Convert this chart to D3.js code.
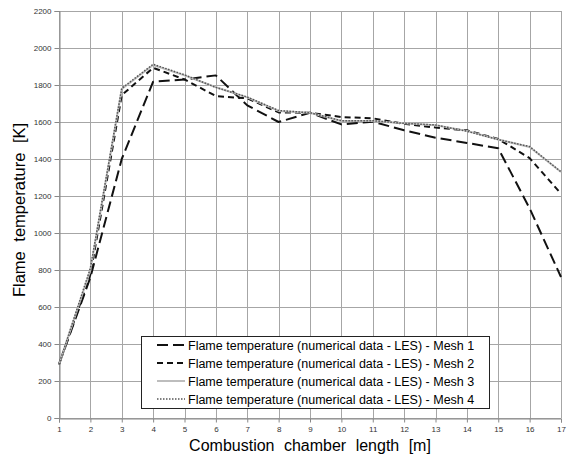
<!DOCTYPE html>
<html><head><meta charset="utf-8">
<script src="https://cdn.jsdelivr.net/npm/d3@7"></script>
<style>body{margin:0;background:#fff}svg{display:block}</style>
</head><body>
<svg id="c" width="569" height="458"></svg>
<script>
const xValues = [1,2,3,4,5,6,7,8,9,10,11,12,13,14,15,16,17];
const mesh1 = [290,760,1400,1818,1830,1852,1690,1600,1650,1587,1602,1555,1515,1487,1458,1133,762];
const mesh2 = [290,775,1745,1893,1830,1740,1728,1652,1650,1627,1620,1590,1570,1555,1508,1405,1213];
const mesh3 = [290,800,1778,1908,1852,1788,1733,1660,1650,1605,1605,1593,1582,1552,1505,1465,1330];
const mesh4 = [290,810,1782,1912,1855,1787,1735,1662,1650,1607,1607,1593,1584,1550,1505,1467,1331];
const yTicks = [0,200,400,600,800,1000,1200,1400,1600,1800,2000,2200];
const seriesNames = [
  "Flame temperature (numerical data - LES) - Mesh 1",
  "Flame temperature (numerical data - LES) - Mesh 2",
  "Flame temperature (numerical data - LES) - Mesh 3",
  "Flame temperature (numerical data - LES) - Mesh 4"
];
const xTitle = "Combustion chamber length [m]";
const yTitle = "Flame temperature [K]";

const styles = [
  {stroke:"#111", width:2, dash:"11,5"},
  {stroke:"#111", width:2, dash:"6,4"},
  {stroke:"#bdbdbd", width:2, dash:null},
  {stroke:"#555", width:1.5, dash:"1.5,1.5"}
];
const seriesData = [mesh1, mesh2, mesh3, mesh4];

const svg = d3.select("#c");
const L=59, R=561, T=11, B=418;
const x = d3.scaleLinear().domain([1,17]).range([L,R]);
const y = d3.scaleLinear().domain([0,2200]).range([B,T]);
const font = "'Liberation Sans', Arial, sans-serif";

// grid
const g = svg.append("g");
g.selectAll("line.h").data(yTicks).join("line")
  .attr("x1",L).attr("x2",R).attr("y1",d=>Math.round(y(d))+0.5).attr("y2",d=>Math.round(y(d))+0.5)
  .attr("stroke","#a6a6a6").attr("stroke-width",1);
g.selectAll("line.v").data(xValues).join("line")
  .attr("y1",T).attr("y2",B).attr("x1",d=>Math.round(x(d))+0.5).attr("x2",d=>Math.round(x(d))+0.5)
  .attr("stroke","#a6a6a6").attr("stroke-width",1);

// axes
const yAxis = d3.axisLeft(y).tickValues(yTicks).tickSize(5).tickPadding(3).tickFormat(d3.format("d"));
const xAxis = d3.axisBottom(x).tickValues(xValues).tickSize(4).tickPadding(4).tickFormat(d3.format("d"));
const ya = svg.append("g").attr("transform",`translate(${Math.round(L)+0.5},0)`).call(yAxis);
const xa = svg.append("g").attr("transform",`translate(0,${Math.round(B)+0.5})`).call(xAxis);
[ya,xa].forEach(a=>{
  a.select(".domain").attr("stroke","#888");
  a.selectAll(".tick line").attr("stroke","#888");
  a.selectAll(".tick text").attr("fill","#333").style("font-family",font).style("font-size","8px");
});

// lines
const line = d3.line().x((d,i)=>x(xValues[i])).y(d=>y(d));
seriesData.forEach((s,i)=>{
  const st = styles[i];
  svg.append("path").datum(s).attr("d",line).attr("fill","none")
    .attr("stroke",st.stroke).attr("stroke-width",st.width)
    .attr("stroke-dasharray",st.dash).attr("stroke-linejoin","round");
});

// axis titles
svg.append("text").attr("x",(L+R)/2).attr("y",451).attr("text-anchor","middle")
  .style("font-family",font).style("font-size","16px").style("word-spacing","5px").attr("fill","#000").text(xTitle);
svg.append("text").attr("transform",`translate(25,210) rotate(-90)`).attr("text-anchor","middle")
  .style("font-family",font).style("font-size","16.5px").style("word-spacing","5px").attr("fill","#000").text(yTitle);

// legend
const lg = svg.append("g");
lg.append("rect").attr("x",141.5).attr("y",336.5).attr("width",348).attr("height",72)
  .attr("fill","#fff").attr("stroke","#222").attr("stroke-width",1);
seriesNames.forEach((n,i)=>{
  const cy = 345 + i*18;
  const st = styles[i];
  lg.append("line").attr("x1",157).attr("x2",185).attr("y1",cy).attr("y2",cy)
    .attr("stroke",st.stroke).attr("stroke-width",st.width).attr("stroke-dasharray",st.dash);
  lg.append("text").attr("x",188).attr("y",cy+4.5).style("font-family",font).style("font-size","12.5px")
    .attr("fill","#000").text(n);
});
</script>
</body></html>
